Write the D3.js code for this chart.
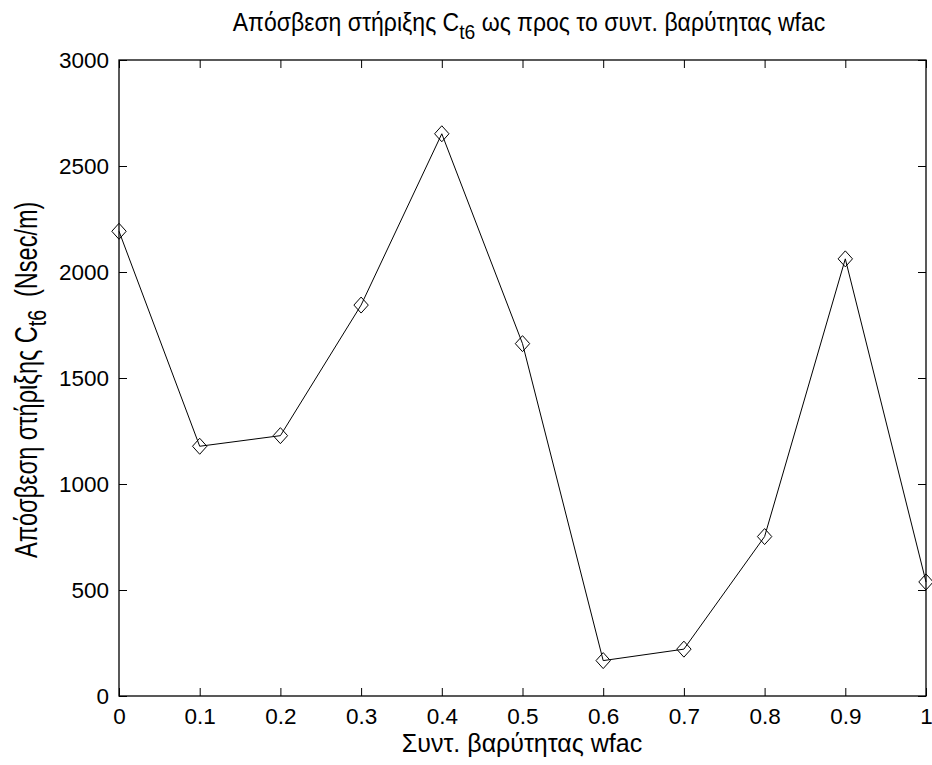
<!DOCTYPE html>
<html>
<head>
<meta charset="utf-8">
<script src="https://cdn.jsdelivr.net/npm/d3@7"></script>
<style>
  html, body { margin: 0; padding: 0; background: #fff; }
  svg { display: block; font-family: "Liberation Sans", Arial, sans-serif; }
</style>
</head>
<body>
<svg id="chart" width="932" height="765"></svg>
<script>
// Damping coefficient C_t6 versus gravity factor wfac
const wfac = [0, 0.1, 0.2, 0.3, 0.4, 0.5, 0.6, 0.7, 0.8, 0.9, 1.0];
const damping = [2192, 1178, 1228, 1844, 2652, 1662, 167, 221, 752, 2062, 538];
const xTicks = [0, 0.1, 0.2, 0.3, 0.4, 0.5, 0.6, 0.7, 0.8, 0.9, 1];
const yTicks = [0, 500, 1000, 1500, 2000, 2500, 3000];

const m = { left: 119, right: 926, top: 60, bottom: 696 };

const svg = d3.select("#chart");

const x = d3.scaleLinear().domain([0, 1]).range([m.left, m.right]);
const y = d3.scaleLinear().domain([0, 3000]).range([m.bottom, m.top]);

const tickLen = 8;
const fontSize = 22.5;

// bottom axis with ticks pointing inward
const gx = svg.append("g").attr("transform", `translate(0,${m.bottom})`)
  .call(d3.axisBottom(x).tickValues(xTicks).tickSizeInner(-tickLen).tickSizeOuter(0)
    .tickPadding(12).tickFormat(d => String(+d.toFixed(1))));
// top axis, ticks only
const gxt = svg.append("g").attr("transform", `translate(0,${m.top})`)
  .call(d3.axisTop(x).tickValues(xTicks).tickSizeInner(-tickLen).tickSizeOuter(0).tickFormat(""));
// left axis
const gy = svg.append("g").attr("transform", `translate(${m.left},0)`)
  .call(d3.axisLeft(y).tickValues(yTicks).tickSizeInner(-tickLen).tickSizeOuter(0)
    .tickPadding(10).tickFormat(d => String(d)));
// right axis, ticks only
const gyr = svg.append("g").attr("transform", `translate(${m.right},0)`)
  .call(d3.axisRight(y).tickValues(yTicks).tickSizeInner(-tickLen).tickSizeOuter(0).tickFormat(""));

[gx, gxt, gy, gyr].forEach(g => {
  g.select(".domain").remove();
  g.selectAll(".tick line").attr("stroke", "#000").attr("stroke-width", 1);
  g.selectAll(".tick text").attr("fill", "#000").attr("font-size", fontSize)
    .attr("font-family", "Liberation Sans, Arial, sans-serif");
});

// box around the plot area
svg.append("rect")
  .attr("x", m.left).attr("y", m.top)
  .attr("width", m.right - m.left).attr("height", m.bottom - m.top)
  .attr("fill", "none").attr("stroke", "#000").attr("stroke-width", 1.3);

const pts = wfac.map((w, i) => [w, damping[i]]);

// connecting line
svg.append("path")
  .datum(pts)
  .attr("fill", "none").attr("stroke", "#000").attr("stroke-width", 1)
  .attr("d", d3.line().x(d => x(d[0])).y(d => y(d[1])));

// diamond markers
const r = 8;
svg.append("g").selectAll("path")
  .data(pts).join("path")
  .attr("d", d => {
    const cx = x(d[0]), cy = y(d[1]);
    return `M${cx},${cy - r}L${cx + r * 0.9},${cy}L${cx},${cy + r}L${cx - r * 0.9},${cy}Z`;
  })
  .attr("fill", "none").attr("stroke", "#000").attr("stroke-width", 1);

// title (narrow, tall lettering)
const title = svg.append("text")
  .attr("transform", `translate(529,31) scale(0.92,1)`)
  .attr("text-anchor", "middle").attr("font-size", 25).attr("fill", "#000");
title.append("tspan").text("Απόσβεση στήριξης C");
title.append("tspan").attr("dy", 8).attr("font-size", 21).text("t6");
title.append("tspan").attr("dy", -8).text(" ως προς το συντ. βαρύτητας wfac");

// x label
svg.append("text")
  .attr("transform", `translate(522,752)`)
  .attr("text-anchor", "middle").attr("font-size", 25).attr("fill", "#000")
  .text("Συντ. βαρύτητας wfac");

// y label, read bottom to top
const yl = svg.append("text")
  .attr("transform", `translate(37,558) rotate(-90) scale(0.76,1)`)
  .attr("text-anchor", "start").attr("font-size", 31).attr("fill", "#000");
yl.append("tspan").text("Απόσβεση στήριξης C");
yl.append("tspan").attr("dy", 9).attr("font-size", 26).text("t6");
yl.append("tspan").attr("dy", -9).attr("dx", 8).text(" (Nsec/m)");
</script>
</body>
</html>
